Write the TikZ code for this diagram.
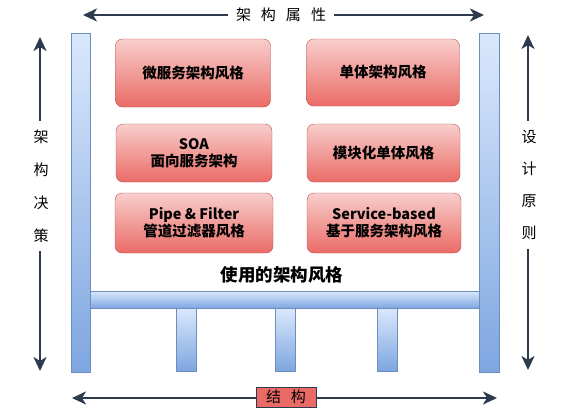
\documentclass[tikz,border=0pt]{standalone}
\usepackage{fontspec}
\setmainfont{Noto Sans CJK SC}
\usetikzlibrary{arrows.meta}
\usetikzlibrary{positioning}

\definecolor{arrowdark}{HTML}{2E3B4E}
\definecolor{redtop}{HTML}{F8CECC}
\definecolor{redbot}{HTML}{EA6B66}
\definecolor{redline}{HTML}{B85450}
\definecolor{bluetop}{HTML}{DAE8FC}
\definecolor{bluebot}{HTML}{7EA6E0}
\definecolor{blueline}{HTML}{6C8EBF}

\tikzset{
  axis/.style={draw=arrowdark, line width=2.4pt, {Stealth[length=14pt,width=13pt,inset=4pt]}-{Stealth[length=14pt,width=13pt,inset=4pt]}},
  axislabel/.style={fill=white, inner sep=4pt, font=\fontsize{15}{15}\selectfont},
  sidelabel/.style={fill=white, inner xsep=2pt, inner ysep=9pt, align=center},
  stylebox/.style={rectangle, rounded corners=7pt, draw=redline, top color=redtop, bottom color=redbot, align=center, font=\fontsize{14.5}{17}\selectfont\bfseries},
  pillar/.style={rectangle, draw=blueline, top color=bluetop, bottom color=bluebot, inner sep=0pt, line width=0.8pt}
}

\begin{document}
\begin{tikzpicture}[x=1pt, y=-1pt]
      \useasboundingbox (0,0) rectangle (568,416);

      % supporting frame
      \node[pillar, minimum width=389, minimum height=17] (beam) at (284.5,299.5) {};
      \node[pillar, minimum width=19, minimum height=339] (lp) at (80.5,202.5) {};
      \node[pillar, minimum width=20, minimum height=339] (rp) at (489,202.5) {};
      \node[pillar, minimum width=20, minimum height=63] (leg1) at (186,339.5) {};
      \node[pillar, minimum width=20, minimum height=63] (leg2) at (285,339.5) {};
      \node[pillar, minimum width=20, minimum height=63] (leg3) at (387,339.5) {};

      % architecture styles
      \node[stylebox, minimum width=155, minimum height=68] (micro) at (193,73) {微服务架构风格};
      \node[stylebox, minimum width=153, minimum height=67] (mono) at (383,72.5) {单体架构风格};
      \node[stylebox, minimum width=156, minimum height=58] (soa) at (194,153) {SOA\\面向服务架构};
      \node[stylebox, minimum width=153, minimum height=58] (modular) at (383.5,153) {模块化单体风格};
      \node[stylebox, minimum width=158, minimum height=60] (pipe) at (194,223) {Pipe \& Filter\\管道过滤器风格};
      \node[stylebox, minimum width=154, minimum height=60] (service) at (384,223) {Service-based\\基于服务架构风格};
      \node[font=\fontsize{17.5}{20}\selectfont\bfseries] (title) at (282,275) {使用的架构风格};

      % axes
      \coordinate (ta1) at (83,15);
      \coordinate (ta2) at (484,15);
      \coordinate (la1) at (40,371);
      \coordinate (la2) at (40,37);
      \coordinate (ra1) at (528,35);
      \coordinate (ra2) at (528,370);
      \coordinate (ba1) at (72,398);
      \coordinate (ba2) at (497,398);

      \draw[axis] (ta1) -- (ta2);
      \draw[axis] (la1) -- (la2);
      \draw[axis] (ra1) -- (ra2);
      \draw[axis] (ba1) -- (ba2);

      \node[axislabel, inner xsep=8pt] (attr) at (281,15) {架\hspace{10pt}构\hspace{10pt}属\hspace{10pt}性};
      \node[sidelabel, font=\fontsize{15}{33}\selectfont] (decide) at (41,186) {架\\构\\决\\策};
      \node[sidelabel, font=\fontsize{15}{32}\selectfont] (rule) at (529,185) {设\\计\\原\\则};
      \node[rectangle, draw=arrowdark, line width=0.8pt, fill=redbot, minimum width=60, minimum height=20, inner sep=0pt, font=\fontsize{15}{15}\selectfont] (struct) at (286,397) {结\hspace{10pt}构};
\end{tikzpicture}
\end{document}
